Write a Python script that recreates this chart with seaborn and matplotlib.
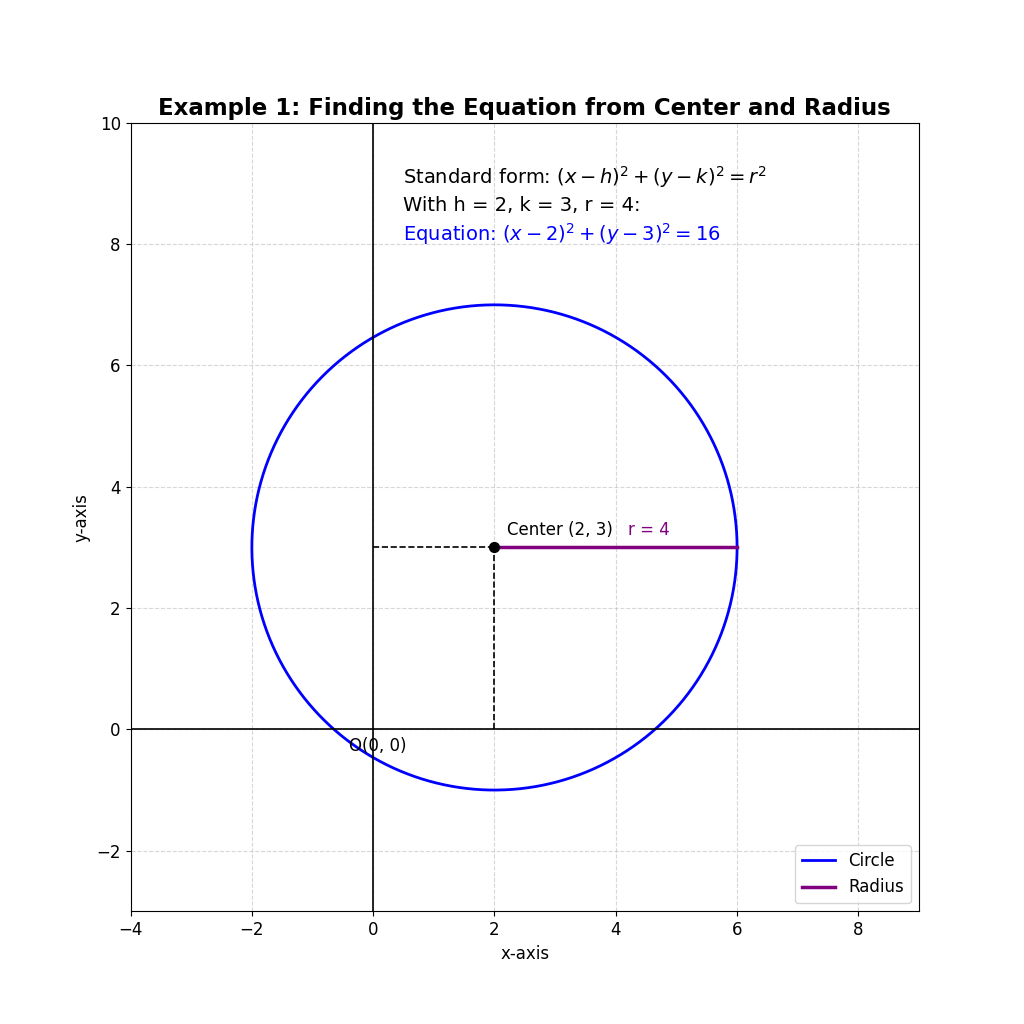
import numpy as np
import pandas as pd
import matplotlib
matplotlib.use("Agg")
import matplotlib.pyplot as plt
import seaborn as sns

h, k, r = 2, 3, 4
theta = np.linspace(0, 2*np.pi, 400)
circle = pd.DataFrame({"x": h + r*np.cos(theta), "y": k + r*np.sin(theta)})
radius = pd.DataFrame({"x": [h, h + r], "y": [k, k]})

fig, ax = plt.subplots(figsize=(10.24, 10.24), dpi=100)
sns.lineplot(data=circle, x="x", y="y", sort=False, estimator=None, color="blue", lw=2, label="Circle", ax=ax)
sns.lineplot(data=radius, x="x", y="y", sort=False, estimator=None, color="purple", lw=2.5, label="Radius", ax=ax)
ax.scatter([h], [k], color="black", s=50, zorder=5)
ax.plot([0, h], [k, k], "k--", lw=1.2)
ax.plot([h, h], [0, k], "k--", lw=1.2)
ax.axhline(0, color="black", lw=1.2)
ax.axvline(0, color="black", lw=1.2)
ax.text(h + 0.2, k + 0.2, f"Center ({h}, {k})", fontsize=12)
ax.text(h + r/2 + 0.2, k + 0.2, f"r = {r}", fontsize=12, color="purple")
ax.text(-0.4, -0.35, "O(0, 0)", fontsize=12)
ax.text(0.5, 9.0, r"Standard form: $(x-h)^2+(y-k)^2=r^2$", fontsize=14)
ax.text(0.5, 8.55, "With h = 2, k = 3, r = 4:", fontsize=14)
ax.text(0.5, 8.05, r"Equation: $(x-2)^2+(y-3)^2=16$", fontsize=14, color="blue")
ax.set_xlim(-4, 9)
ax.set_ylim(-3, 10)
ax.set_aspect("equal")
ax.grid(True, linestyle="--", alpha=0.5)
ax.set_xlabel("x-axis", fontsize=12)
ax.set_ylabel("y-axis", fontsize=12)
ax.tick_params(labelsize=12)
ax.set_title("Example 1: Finding the Equation from Center and Radius", fontsize=16.5, fontweight="bold")
ax.legend(loc="lower right", fontsize=12)
fig.savefig("out.png", dpi=100)
